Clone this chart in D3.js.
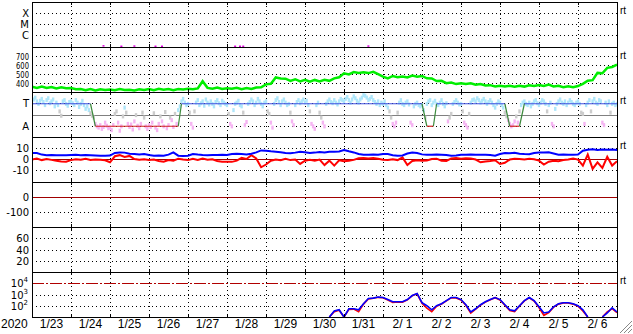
<!DOCTYPE html>
<html>
<head>
<meta charset="utf-8">
<title>Solar wind summary 2020</title>
<script src="https://d3js.org/d3.v7.min.js"></script>
<style>
  body { margin: 0; background: #fff; }
  svg text { font-family: "Liberation Sans", Arial, sans-serif; font-size: 12px; fill: #000; }
  svg text.tick { font-family: "DejaVu Sans", sans-serif; font-size: 10px; }
</style>
</head>
<body>
<svg width="633" height="334"></svg>
<script>
// ---- data ----
const yearLabel = "2020";
const dayLabels = ["1/23","1/24","1/25","1/26","1/27","1/28","1/29","1/30","1/31","2/ 1","2/ 2","2/ 3","2/ 4","2/ 5","2/ 6"];

const xrayClassLabels = ["X","M","C"];
const xrayClassFlux = [1e-4, 1e-5, 1e-6];
const speedTicks = [700, 600, 500, 400];
const sectorLabels = ["T","A"];
const sectorAngles = [315, 135];
const bzTicks = [10, 0, -10];
const dstTicks = [0, -100];
const kpTicks = [60, 40, 20];
const fluxTicks = [4, 3, 2];  // exponents of 10

// x-ray flux, a few hourly samples just above B level
const xrayHours = [44, 55, 63, 76, 80, 125, 128, 130, 207];
const xrayFlux = [1.2e-7, 1.1e-7, 1.15e-7, 1.1e-7, 1.1e-7, 1.1e-7, 1.1e-7, 1.1e-7, 1.15e-7];

// 3-hourly solar wind speed (km/s)
const speed = [358,346,360,344,356,340,352,342,344,330,333,320,334,318,330,322,328,320,332,322,
  326,318,330,322,332,320,336,324,334,320,334,328,336,330,340,420,346,336,350,334,
  342,336,346,332,344,334,350,352,385,392,462,450,448,424,442,418,436,414,434,418,
  436,424,452,464,508,496,522,512,518,510,524,498,470,452,478,464,472,462,482,470,
  478,452,450,422,424,398,406,388,398,388,396,380,388,372,376,362,370,360,368,358,
  370,360,374,368,378,366,382,362,368,354,364,352,366,390,426,432,512,508,568,578,605];

// 3-hourly IMF Bt and Bz (nT)
const bt = [5.5,5.5,4,3.5,3.6,3.3,3.5,3.4,3.6,3.8,3.5,3.6,3.4,3.2,3,2.9,3.1,5.5,6,5.8,
  4.8,4.5,4.2,4.5,3.6,3,3.2,2.9,4,6,3,2.7,3,4.5,4,3.6,3.5,3.7,3.6,3.8,
  3.6,4.5,4.8,4.5,4.2,4.8,6,7.8,7.5,7,6.6,6.2,5.5,5.2,5.8,6.6,6.2,5.5,5.8,6.4,
  6,6.6,6.5,6.8,8.2,7,6,4.5,3.9,3.9,4,3.8,4.5,4.6,3.5,3,3.2,5,6,5.5,
  4.2,3.9,3.8,4,3.9,3.7,3,3.1,3.8,3.9,4.1,3.8,3.9,3.9,3.6,3,4.5,5.5,5.3,5.6,
  4.8,4.5,4.4,5.5,6,5.8,6.2,5,3.9,4,3.8,3.9,4,7.5,8.5,8.8,8.2,8.6,8.3,8.6,8.2];
const bz = [-0.5,0.5,-1,0,-0.8,-1.5,-2.2,-2.5,-1,-0.3,-0.6,0.2,-0.8,-0.4,-0.6,-1.2,-3,2.5,3.5,1.8,
  2.8,0,-0.6,-0.2,-0.8,-0.5,-1.8,-2.5,-1,-1.6,0.3,-0.5,-1,0.2,-0.8,0.5,-0.6,-0.2,-1.8,-2.5,
  -2.4,-2.6,-1.5,1,0,3.5,0.5,-7.5,-5,-1.5,-0.5,-1.2,0.2,-1,-0.4,-4.5,-1.5,-0.8,-1.6,-0.5,
  -5.5,-1.5,-6,-1.2,-2,-1.5,-0.8,0.6,1,0.4,0.8,0.2,-0.6,-0.8,-0.3,-1,1.5,-5.5,-1.8,-1.2,
  -1.6,-1.4,0,0.3,-1.5,-1.8,0.5,0.8,0.3,0.6,0.4,-0.5,-3,-2.2,-1.8,-1.2,-4.5,-3.5,-0.5,0.2,
  0,-0.4,0.3,-0.3,-1.5,-5,-2.5,-1.5,-2,-1,-0.5,0.5,-0.5,-6,4,-9,-3,-8,2,-6,-2];

// hourly IMF phi angle (deg)
const phi = [
  320,345,360,330,310,335,350,325,300,340,355,315,330,345,290,320,300,250,215,330,340,310,295,325,
  330,315,300,340,320,285,310,335,300,270,290,260,235,215,200,150,130,120,140,110,125,160,135,115,
  120,100,140,230,250,160,95,130,210,280,240,150,125,145,105,170,220,135,115,150,240,200,130,110,
  140,125,160,235,120,100,150,210,170,130,245,115,140,200,180,125,230,150,260,290,330,350,320,300,
  310,240,150,120,250,320,340,300,315,330,295,345,320,305,330,310,290,325,340,315,300,335,320,310,
  300,230,150,130,260,310,320,335,300,290,240,140,165,310,325,345,330,300,320,350,330,310,290,320,
  330,250,230,160,120,310,340,355,325,300,330,345,320,300,310,240,170,140,300,325,340,315,330,345,
  320,335,300,250,150,130,110,300,320,240,200,160,130,310,330,345,325,315,340,320,305,330,350,340,
  330,350,365,340,320,345,370,355,335,320,345,360,380,375,360,340,350,365,340,325,310,330,300,320,
  310,330,300,280,250,200,150,130,160,240,320,340,310,300,320,330,305,160,140,290,310,320,300,290,
  300,260,200,310,330,340,300,320,335,310,300,320,340,310,290,315,170,200,230,310,325,340,320,305,
  310,250,160,140,120,230,320,340,345,330,355,340,320,335,350,330,310,325,340,320,300,280,310,330,
  320,300,280,240,210,180,150,130,140,170,210,160,250,300,320,330,310,300,320,290,310,330,340,315,
  300,320,340,330,310,250,300,320,150,130,270,310,330,345,320,310,330,300,320,340,325,310,300,320,
  330,310,240,230,150,300,320,340,250,330,350,320,310,340,330,160,140,320,300,330,240,310,320,300,310];

// IMF sector (T = toward, A = away), change points in hours
const sectorHours = [0, 36, 39, 90, 92, 240, 243, 247, 249, 291, 294, 300, 303, 360];
const sectorState = ["T","T","A","A","T","T","A","A","T","T","A","A","T","T"];

// 3-hourly electron flux, two sensors (null = no data)
const fluxBlue = [null,null,null,null,null,null,null,null,null,null,null,null,null,null,null,null,null,null,null,null,
  null,null,null,null,null,null,null,null,null,null,null,null,null,null,null,null,null,null,null,null,
  null,null,null,null,null,null,null,null,null,null,null,null,null,null,null,null,null,null,null,null,
  null,10,35,44,10,54,54,44,151,437,479,589,537,355,229,229,229,355,813,1230,
  186,100,44,100,151,282,537,537,355,123,28,54,123,229,355,537,355,123,44,35,
  100,282,537,282,81,23,28,81,151,186,186,151,100,44,10,null,null,10,23,66,28];
const fluxRed = [null,null,null,null,null,null,null,null,null,null,null,null,null,null,null,null,null,null,null,null,
  null,null,null,null,null,null,null,null,null,null,null,null,null,null,null,null,null,null,null,null,
  null,null,null,null,null,null,null,null,null,null,null,null,null,null,null,null,null,null,null,null,
  null,10,30,40,10,48,50,30,140,400,470,560,520,330,200,220,210,340,780,1150,
  170,60,30,90,140,270,520,500,330,110,22,50,115,210,340,520,330,110,38,30,
  95,270,510,260,70,14,25,75,140,180,175,140,90,35,10,null,null,10,28,55,24];

// ---- layout ----
const svg = d3.select("svg");
const left = 32, right = 617;
const panelTops = [2, 47, 92, 137, 182, 227, 272];
const panelH = 45;
const t0 = new Date(2020, 0, 23);
const hourTime = h => new Date(t0.getTime() + h * 3600e3);
const times3h = d3.range(speed.length).map(i => hourTime(i * 3));

const x = d3.scaleTime().domain([t0, hourTime(15 * 24)]).range([left, right]);

const yXray = d3.scaleLog().domain([1e-7, 1e-3]).range([46, 2]);
const ySpeed = d3.scaleLinear().domain([300, 800]).range([92, 47]);
const yPhi = d3.scaleLinear().domain([45, 405]).range([137, 92]);
const yBz = d3.scaleLinear().domain([-20, 20]).range([181, 137]);
const yDst = d3.scaleLinear().domain([-200, 100]).range([227, 182]);
const yKp = d3.scaleLinear().domain([0, 80]).range([272, 227]);
const yFlux = d3.scaleLog().domain([10, 1e5]).range([317, 272]);

// clip paths, one per panel
const defs = svg.append("defs");
panelTops.forEach((top, i) => {
  defs.append("clipPath").attr("id", "clip" + i)
    .append("rect").attr("x", left).attr("y", top).attr("width", right - left).attr("height", panelH);
});

const grid = svg.append("g").attr("shape-rendering", "crispEdges");

// vertical dotted day lines
const dayEdges = d3.range(1, 15).map(d => hourTime(d * 24));
grid.selectAll(".vgrid").data(dayEdges).join("line")
  .attr("x1", d => Math.round(x(d)) + 0.5).attr("x2", d => Math.round(x(d)) + 0.5)
  .attr("y1", 2).attr("y2", 317)
  .attr("stroke", "#000").attr("stroke-dasharray", "1,3");

function hDotted(y) {
  grid.append("line").attr("x1", left).attr("x2", right)
    .attr("y1", Math.round(y) + 0.5).attr("y2", Math.round(y) + 0.5)
    .attr("stroke", "#000").attr("stroke-dasharray", "1,3");
}
function label(y, txt) {
  return svg.append("text").attr("class", "tick").attr("x", 29).attr("y", y + 4)
    .attr("text-anchor", "end").text(txt);
}

// panel 0: x-ray classes
xrayClassFlux.forEach((f, i) => { hDotted(yXray(f)); label(yXray(f), xrayClassLabels[i]); });
// panel 1: speed (narrow digits)
speedTicks.forEach(v => {
  hDotted(ySpeed(v));
  label(ySpeed(v), v).attr("y", ySpeed(v) + 3.5).style("font-size", "9px")
    .attr("textLength", 13).attr("lengthAdjust", "spacingAndGlyphs");
});
// panel 2: sector
sectorAngles.forEach((a, i) => { hDotted(yPhi(a)); label(yPhi(a), sectorLabels[i]); });
// panel 3: Bz
bzTicks.forEach(v => { if (v !== 0) hDotted(yBz(v)); label(yBz(v), v); });
// panel 4: Dst
dstTicks.forEach(v => { if (v !== 0) hDotted(yDst(v)); label(yDst(v), v); });
// panel 5
kpTicks.forEach(v => { hDotted(yKp(v)); label(yKp(v), v); });
// panel 6: flux
fluxTicks.forEach(e => {
  if (e !== 4) hDotted(yFlux(Math.pow(10, e)));
  const t = svg.append("text").attr("class", "tick").attr("x", 28)
    .attr("y", yFlux(Math.pow(10, e)) + 4).attr("text-anchor", "end");
  t.append("tspan").text("10");
  t.append("tspan").attr("dy", -5).style("font-size", "7px").text(e);
});

// reference lines
grid.append("line").attr("x1", left).attr("x2", right)
  .attr("y1", Math.round(yBz(0)) + 0.5).attr("y2", Math.round(yBz(0)) + 0.5).attr("stroke", "#a00000");
grid.append("line").attr("x1", left).attr("x2", right)
  .attr("y1", Math.round(yDst(0)) + 0.5).attr("y2", Math.round(yDst(0)) + 0.5).attr("stroke", "#a00000");
grid.append("line").attr("x1", left).attr("x2", right)
  .attr("y1", Math.round(yFlux(1e4)) + 0.5).attr("y2", Math.round(yFlux(1e4)) + 0.5)
  .attr("stroke", "#b00000").attr("stroke-dasharray", "12,2,2,2");

// ---- data marks ----
// x-ray
svg.append("g").attr("clip-path", "url(#clip0)")
  .selectAll("rect").data(xrayHours).join("rect")
  .attr("x", h => x(hourTime(h)) - 1).attr("y", (h, i) => yXray(xrayFlux[i]))
  .attr("width", 2).attr("height", 1.5).attr("fill", "#e000e0");

// speed
svg.append("path").attr("clip-path", "url(#clip1)")
  .datum(speed)
  .attr("fill", "none").attr("stroke", "#00ee00").attr("stroke-width", 2.5)
  .attr("d", d3.line().x((d, i) => x(times3h[i])).y(d => ySpeed(d)));

// phi points
const phiColor = p => p >= 260 ? "#aee6fa" : (p <= 190 ? "#f5b4f2" : "#cccccc");
svg.append("g").attr("clip-path", "url(#clip2)")
  .selectAll("rect").data(phi).join("rect")
  .attr("x", (p, h) => x(hourTime(h)) - 1.2).attr("y", p => yPhi(p) - 2)
  .attr("width", 2.4).attr("height", 4).attr("fill", p => phiColor(p));

// middle line and sector step line
grid.append("line").attr("x1", left).attr("x2", right)
  .attr("y1", Math.round(yPhi(225)) + 0.5).attr("y2", Math.round(yPhi(225)) + 0.5).attr("stroke", "#808080");
const sectorAngle = s => s === "T" ? 315 : 135;
const sectorSegs = d3.range(sectorHours.length - 1).map(i => ({
  a: sectorHours[i], b: sectorHours[i + 1], sa: sectorState[i], sb: sectorState[i + 1]
}));
svg.append("g").selectAll("line").data(sectorSegs).join("line")
  .attr("x1", d => x(hourTime(d.a))).attr("x2", d => x(hourTime(d.b)))
  .attr("y1", d => yPhi(sectorAngle(d.sa)) + 0.5).attr("y2", d => yPhi(sectorAngle(d.sb)) + 0.5)
  .attr("stroke", d => d.sa !== d.sb ? "#3c8a3c" : (d.sa === "T" ? "#3f4fe0" : "#d02020"))
  .attr("stroke-width", 1.2);

// Bt / Bz
const magG = svg.append("g").attr("clip-path", "url(#clip3)");
magG.append("path").datum(bz)
  .attr("fill", "none").attr("stroke", "#ff0000").attr("stroke-width", 2)
  .attr("d", d3.line().x((d, i) => x(times3h[i])).y(d => yBz(d)));
magG.append("path").datum(bt)
  .attr("fill", "none").attr("stroke", "#0000ff").attr("stroke-width", 2)
  .attr("d", d3.line().x((d, i) => x(times3h[i])).y(d => yBz(d)));

// electron flux
const fluxLine = d3.line().defined(d => d != null)
  .x((d, i) => x(times3h[i])).y(d => yFlux(d));
const fluxG = svg.append("g").attr("clip-path", "url(#clip6)");
fluxG.append("path").datum(fluxRed)
  .attr("fill", "none").attr("stroke", "#ff0000").attr("stroke-width", 1.6)
  .attr("d", fluxLine);
fluxG.append("path").datum(fluxBlue)
  .attr("fill", "none").attr("stroke", "#0000ff").attr("stroke-width", 1.6)
  .attr("d", fluxLine);

// ---- frames ----
const frame = svg.append("g").attr("shape-rendering", "crispEdges");
panelTops.concat([317]).forEach(y => {
  frame.append("line").attr("x1", left).attr("x2", right + 1)
    .attr("y1", y + 0.5).attr("y2", y + 0.5).attr("stroke", "#000");
});
frame.append("line").attr("x1", left + 0.5).attr("x2", left + 0.5).attr("y1", 2).attr("y2", 318).attr("stroke", "#000");
frame.append("line").attr("x1", right + 0.5).attr("x2", right + 0.5).attr("y1", 2).attr("y2", 318).attr("stroke", "#000");
// small day ticks on each panel edge
panelTops.forEach(top => {
  dayEdges.forEach(d => {
    const xx = Math.round(x(d)) + 0.5;
    frame.append("line").attr("x1", xx).attr("x2", xx).attr("y1", top).attr("y2", top + 3).attr("stroke", "#000");
    frame.append("line").attr("x1", xx).attr("x2", xx).attr("y1", top + panelH - 3).attr("y2", top + panelH).attr("stroke", "#000");
  });
});

// right-hand "rt" markers
[0, 1, 2, 3, 6].forEach(i => {
  svg.append("text").attr("x", 620).attr("y", panelTops[i] + 12)
    .style("font-size", "10px").text("rt");
});

// ---- x axis labels ----
svg.append("text").attr("x", 1).attr("y", 328).text(yearLabel);
svg.selectAll(".day").data(dayLabels).join("text")
  .attr("x", (d, i) => x(hourTime(i * 24 + 12)))
  .attr("y", 328).attr("text-anchor", "middle").text(d => d);

// resize grip
svg.append("g").selectAll("line").data([4, 8, 12]).join("line")
  .attr("x1", k => 632 - k).attr("y1", 333).attr("x2", 632).attr("y2", k => 333 - k)
  .attr("stroke", "#888");
</script>
</body>
</html>
